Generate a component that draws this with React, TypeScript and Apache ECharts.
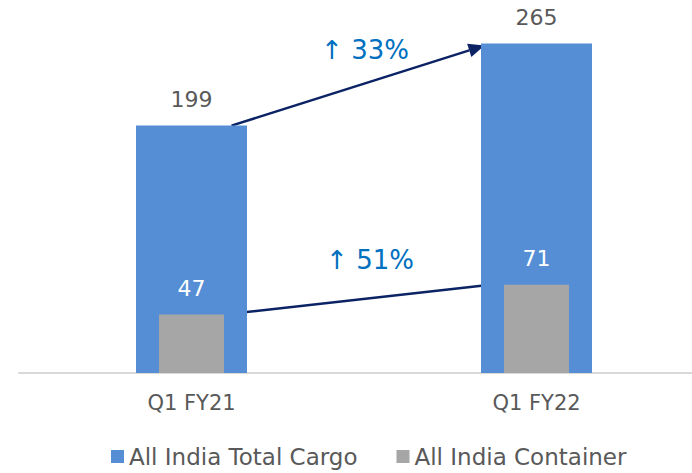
import React, { useEffect, useRef } from "react";
import * as echarts from "echarts";

const categories = ["Q1 FY21", "Q1 FY22"];
const totalCargo = [199, 265];
const container = [47, 71];
const growthLabels = ["↑ 33%", "↑ 51%"];

const FONT = "'DejaVu Sans', 'Noto Sans', sans-serif";

export default function App() {
  const ref = useRef<HTMLDivElement>(null);
  useEffect(() => {
    if (!ref.current) return;
    const chart = echarts.init(ref.current, null, { renderer: "svg" });
    chart.setOption({
      animation: false,
      textStyle: { fontFamily: FONT },
      grid: { left: 19, top: 0, height: 373, width: 690, outerBoundsMode: "none", containLabel: false },
      legend: {
        bottom: 0,
        left: 106,
        itemWidth: 13,
        itemHeight: 13,
        itemGap: 39,
        icon: "rect",
        textStyle: { fontSize: 23, color: "#595959", fontFamily: FONT, padding: [0, 0, 0, 0] },
        data: ["All India Total Cargo", "All India Container"],
      },
      xAxis: [
        {
          type: "category",
          data: categories,
          axisLine: { lineStyle: { color: "#d9d9d9", width: 2 } },
          axisTick: { show: false },
          axisLabel: { fontSize: 21, color: "#595959", margin: 19, fontFamily: FONT },
        },
        {
          type: "category",
          data: categories,
          show: false,
        },
      ],
      yAxis: { type: "value", min: 0, max: 300, show: false, splitLine: { show: false } },
      series: [
        {
          name: "All India Total Cargo",
          type: "bar",
          xAxisIndex: 0,
          data: totalCargo,
          barWidth: 111,
          itemStyle: { color: "#558ED5" },
          label: { show: true, position: "top", distance: 15, fontSize: 22, color: "#595959", fontFamily: FONT },
        },
        {
          name: "All India Container",
          type: "bar",
          xAxisIndex: 1,
          data: container,
          barWidth: 65,
          itemStyle: { color: "#A6A6A6" },
          label: { show: true, position: "top", distance: 15, fontSize: 22, color: "#ffffff", fontFamily: FONT },
        },
      ],
    });

    const px = (i: number, v: number) =>
      chart.convertToPixel({ xAxisIndex: 0, yAxisIndex: 0 }, [i, v]) as number[];
    const a1 = px(0, totalCargo[0]);
    const b1 = px(1, totalCargo[1]);
    const a2 = px(0, container[0]);
    const b2 = px(1, container[1]);
    const arrows = [
      { s: [a1[0] + 40, a1[1]], e: [b1[0] - 52, b1[1] + 2], tx: 365, ty: 50 },
      { s: [a2[0] + 41, a2[1] - 1], e: [b2[0] - 28, b2[1] - 2], tx: 370, ty: 260 },
    ];
    const graphics: any[] = [];
    const color = "#0B2265";
    arrows.forEach((ar, k) => {
      const [sx, sy] = ar.s;
      const [ex, ey] = ar.e;
      const dx = ex - sx, dy = ey - sy;
      const len = Math.sqrt(dx * dx + dy * dy);
      const ux = dx / len, uy = dy / len;
      const hl = 16, hw = 7;
      const bx = ex - ux * hl, by = ey - uy * hl;
      graphics.push({
        type: "line",
        shape: { x1: sx, y1: sy, x2: bx, y2: by },
        style: { stroke: color, lineWidth: 2.5 },
        silent: true,
      });
      graphics.push({
        type: "polygon",
        shape: {
          points: [
            [ex, ey],
            [bx - uy * hw, by + ux * hw],
            [bx + uy * hw, by - ux * hw],
          ],
        },
        style: { fill: color },
        silent: true,
      });
      graphics.push({
        type: "text",
        x: ar.tx,
        y: ar.ty,
        style: {
          text: growthLabels[k],
          fill: "#0070C0",
          fontSize: 26,
          fontFamily: FONT,
          align: "center",
          verticalAlign: "middle",
        },
        silent: true,
      });
    });
    chart.setOption({ graphic: graphics });

    return () => chart.dispose();
  }, []);
  return <div ref={ref} style={{ width: 692, height: 473, position: "absolute", left: 0, top: 0 }} />;
}
